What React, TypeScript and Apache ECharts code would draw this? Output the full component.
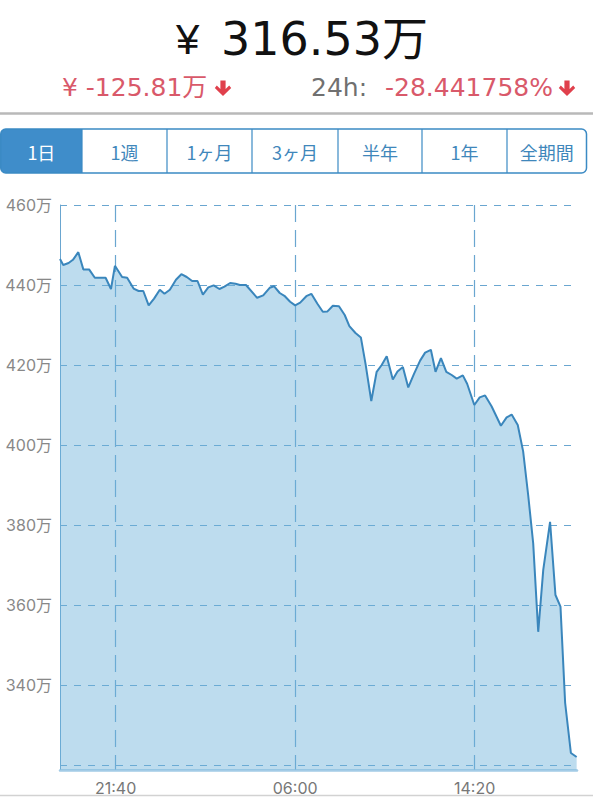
import React, { useEffect, useRef } from "react";
import * as echarts from "echarts";

// ---- data ----
const times = [
  "19:05", "19:14", "19:29", "19:41", "19:56", "20:10", "20:26", "20:42", "21:12", "21:27",
  "21:38", "21:58", "22:12", "22:30", "22:44", "22:57", "23:12", "23:27", "23:43", "23:56",
  "00:11", "00:28", "00:43", "00:58", "01:13", "01:28", "01:43", "01:58", "02:13", "02:29",
  "02:43", "02:59", "03:14", "03:26", "03:43", "04:14", "04:31", "04:49", "05:01", "05:17",
  "05:30", "05:46", "06:00", "06:14", "06:31", "06:45", "07:02", "07:17", "07:30", "07:45",
  "08:02", "08:18", "08:31", "08:48", "09:03", "09:16", "09:32", "09:47", "10:01", "10:15",
  "10:32", "10:45", "11:00", "11:15", "11:31", "11:48", "12:02", "12:18", "12:31", "12:46",
  "13:01", "13:16", "13:30", "13:47", "13:59", "14:19", "14:34", "14:49", "15:07", "15:33",
  "15:49", "16:03", "16:20", "16:35", "16:49", "17:03", "17:17", "17:31", "17:50", "18:05",
  "18:19", "18:32", "18:48", "19:04",
];
// prices in 万円
const prices = [
  446.5, 445.0, 445.5, 446.3, 448.2, 443.9, 443.9, 441.8, 441.8, 439.0,
  444.8, 442.0, 441.8, 439.1, 438.5, 438.5, 434.9, 436.6, 438.8, 437.8,
  438.8, 441.3, 442.7, 442.0, 441.0, 441.0, 437.6, 439.4, 439.9, 439.0,
  439.6, 440.5, 440.3, 440.0, 440.0, 436.8, 437.4, 439.3, 439.7, 438.0,
  437.3, 435.8, 434.9, 435.6, 437.2, 437.8, 435.3, 433.3, 433.4, 434.8,
  434.7, 432.5, 429.7, 428.0, 426.9, 420.3, 411.0, 418.3, 420.0, 422.2,
  416.4, 418.4, 419.5, 414.4, 417.8, 421.1, 423.1, 423.8, 418.3, 421.7,
  418.3, 417.5, 416.6, 417.4, 415.3, 410.0, 411.9, 412.4, 409.7, 404.8,
  406.9, 407.6, 405.0, 398.4, 387.5, 375.4, 353.3, 368.8, 380.8, 362.5,
  359.6, 335.5, 323.0, 322.0,
];
const yGridValues = [320, 340, 360, 380, 400, 420, 440, 460];
const yLabelValues = [340, 360, 380, 400, 420, 440, 460];
const xTickLabels = ["21:40", "06:00", "14:20"];
const tabs = ["1日", "1週", "1ヶ月", "3ヶ月", "半年", "1年", "全期間"];
const headerPrice = "316.53万";
const changeAmount = "¥ -125.81万";
const changeLabel = "24h:";
const changePct = "-28.441758%";

const START = 19 * 60 + 5; // window start (24h window)
const toOffset = (t: string) => {
  const [h, m] = t.split(":").map(Number);
  return (h * 60 + m - START + 1440) % 1440;
};
const toClock = (v: number) => {
  const tot = (Math.round(v) + START) % 1440;
  const h = Math.floor(tot / 60);
  const m = tot % 60;
  return `${String(h).padStart(2, "0")}:${String(m).padStart(2, "0")}`;
};

const FONT = "Inter, 'Noto Sans CJK JP', sans-serif";
const HFONT = "'DejaVu Sans', 'Noto Sans CJK JP', sans-serif";
const CJK = "'Noto Sans CJK JP', sans-serif";
const RED = "#d9596a";
const ARROW_RED = "#e0404c";
const BLUE = "#3b8ac4";

const tabEdges = [0.75, 82, 167, 252, 338, 422, 507, 586.5];

function arrow(cx: number, top: number) {
  return {
    type: "polygon",
    shape: {
      points: [
        [cx - 2.6, top], [cx + 2.6, top], [cx + 2.6, top + 8.5], [cx + 6.2, top + 5],
        [cx + 8.2, top + 7.4], [cx, top + 15.5], [cx - 8.2, top + 7.4], [cx - 6.2, top + 5],
        [cx - 2.6, top + 8.5],
      ],
    },
    style: { fill: ARROW_RED },
  };
}

export default function App() {
  const ref = useRef<HTMLDivElement>(null);
  useEffect(() => {
    if (!ref.current) return;
    const chart = echarts.init(ref.current, null, { renderer: "svg" });
    const xTickValues = xTickLabels.map(toOffset);
    const data = times.map((t, i) => [toOffset(t), prices[i]]);

    const graphics: any[] = [
      { type: "text", x: 176, y: 39, style: { text: "¥", fontSize: 42, fontFamily: "'Liberation Sans', sans-serif", fill: "#111", align: "left", verticalAlign: "middle" } },
      { type: "text", x: 428, y: 39, style: { text: headerPrice, fontSize: 46, fontFamily: HFONT, fill: "#111", align: "right", verticalAlign: "middle" } },
      { type: "text", x: 62, y: 87, style: { text: changeAmount, fontSize: 25, fontFamily: HFONT, fill: RED, align: "left", verticalAlign: "middle" } },
      arrow(223, 80.5),
      { type: "text", x: 311, y: 87, style: { text: changeLabel, fontSize: 25, fontFamily: HFONT, fill: "#707070", align: "left", verticalAlign: "middle" } },
      { type: "text", x: 553, y: 87, style: { text: changePct, fontSize: 25, fontFamily: HFONT, fill: RED, align: "right", verticalAlign: "middle" } },
      arrow(567, 80.5),
      { type: "line", shape: { x1: 0, y1: 113.5, x2: 593, y2: 113.5 }, style: { stroke: "#b9b9b9", lineWidth: 2.5 } },
      // tabs
      { type: "rect", shape: { x: tabEdges[0], y: 129, width: tabEdges[1] - tabEdges[0], height: 44, r: [5, 0, 0, 5] }, style: { fill: "#3f8dca" } },
      { type: "rect", shape: { x: tabEdges[0], y: 129, width: tabEdges[7] - tabEdges[0], height: 44, r: 5 }, style: { fill: "none", stroke: BLUE, lineWidth: 1.5 } },
      ...tabEdges.slice(1, 7).map((x) => ({ type: "line", shape: { x1: x, y1: 129, x2: x, y2: 173 }, style: { stroke: BLUE, lineWidth: 1.2 } })),
      ...tabs.map((t, i) => ({
        type: "text",
        x: (tabEdges[i] + tabEdges[i + 1]) / 2,
        y: 152,
        style: { text: t, fontSize: 18, fontFamily: CJK, fill: i === 0 ? "#ffffff" : "#3f87bb", align: "center", verticalAlign: "middle" },
      })),
      { type: "line", shape: { x1: 0, y1: 795.5, x2: 593, y2: 795.5 }, style: { stroke: "#d2d2d2", lineWidth: 1.5 } },
    ];

    chart.setOption({
      animation: false,
      backgroundColor: "#ffffff",
      grid: { left: 60, right: 16, top: 205, bottom: 30, containLabel: false, outerBoundsMode: "none" },
      xAxis: {
        type: "value",
        min: 0,
        max: 1440,
        axisLine: { show: true, onZero: false, lineStyle: { color: "#a3cbe6", width: 2.5 } },
        axisTick: { show: false, customValues: xTickValues },
        axisLabel: { customValues: xTickValues, formatter: (v: number) => toClock(v), color: "#777", fontSize: 16, fontFamily: FONT, margin: 10 },
        splitLine: { show: true, lineStyle: { type: [17, 8], color: "#6aa6d0", width: 1.2 } },
      },
      yAxis: {
        type: "value",
        min: 318.75,
        max: 460,
        axisLine: { show: true, lineStyle: { color: "#6aa6d0", width: 1 } },
        axisTick: { show: false, customValues: yGridValues },
        axisLabel: { customValues: yLabelValues, formatter: (v: number) => `${v}万`, color: "#888", fontSize: 16, fontFamily: FONT, margin: 8 },
        splitLine: { show: true, lineStyle: { type: [7, 7], color: "#6aa6d0", width: 1.2 } },
      },
      series: [
        {
          type: "line",
          data,
          showSymbol: false,
          lineStyle: { color: "#3a86bc", width: 2 },
          areaStyle: { color: "rgba(108,177,217,0.45)", opacity: 1 },
        },
      ],
      graphic: graphics,
    });
    return () => chart.dispose();
  }, []);
  return <div ref={ref} style={{ position: "fixed", left: 0, top: 0, width: 593, height: 800 }} />;
}
